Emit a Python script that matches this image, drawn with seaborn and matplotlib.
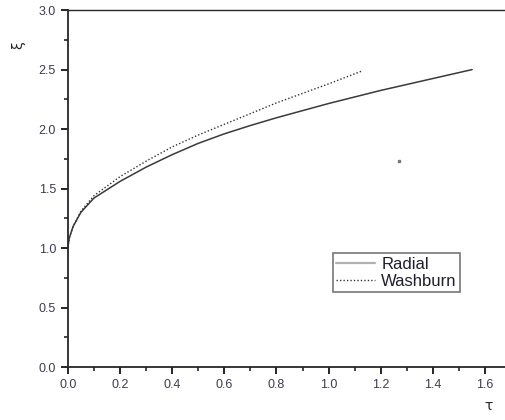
import matplotlib
matplotlib.use("Agg")
import matplotlib.pyplot as plt
import seaborn as sns
import pandas as pd
from matplotlib.ticker import MultipleLocator

# values
radial_tau = [0.0, 0.005, 0.02, 0.05, 0.1, 0.2, 0.3, 0.4, 0.5, 0.6, 0.7, 0.8, 0.9, 1.0, 1.1, 1.2, 1.3, 1.4, 1.55]
radial_xi = [1.0, 1.08, 1.18, 1.3, 1.42, 1.56, 1.68, 1.785, 1.88, 1.96, 2.03, 2.095, 2.155, 2.215, 2.27, 2.325, 2.375, 2.425, 2.5]
washburn_tau = [0.0, 0.005, 0.02, 0.05, 0.1, 0.2, 0.3, 0.4, 0.5, 0.6, 0.7, 0.8, 0.9, 1.0, 1.13]
washburn_xi = [1.0, 1.08, 1.18, 1.31, 1.44, 1.6, 1.73, 1.85, 1.95, 2.04, 2.13, 2.22, 2.3, 2.38, 2.49]
stray_tau = [1.27]
stray_xi = [1.73]

sns.set_style("ticks")
plt.rcParams['font.family'] = ['Liberation Sans', 'DejaVu Sans']

fig = plt.figure(figsize=(5.06, 4.2), dpi=100)
ax = fig.add_axes([0.134, 0.126, 0.866, 0.850])

radial = pd.DataFrame({"tau": radial_tau, "xi": radial_xi})
washburn = pd.DataFrame({"tau": washburn_tau, "xi": washburn_xi})

sns.lineplot(data=radial, x="tau", y="xi", ax=ax, color="#3a3a3a", lw=1.1, label="Radial")
sns.lineplot(data=washburn, x="tau", y="xi", ax=ax, color="#333333", lw=1.0, ls=(0, (1, 1.5)), label="Washburn")
ax.plot(stray_tau, stray_xi, ls="none", marker="s", ms=1.5, color="#777777")

ax.set_xlim(0, 1.68)
ax.set_ylim(0, 3.0)
ax.xaxis.set_major_locator(MultipleLocator(0.2))
ax.xaxis.set_minor_locator(MultipleLocator(0.1))
ax.yaxis.set_major_locator(MultipleLocator(0.5))
ax.yaxis.set_minor_locator(MultipleLocator(0.25))
ax.tick_params(which="major", length=5, width=1.2, labelsize=9, labelcolor="#3c3c50", color="black")
ax.tick_params(which="minor", length=3, width=1.2)

ax.spines["right"].set_visible(False)
for s in ["left", "bottom"]:
    ax.spines[s].set_linewidth(1.3)
ax.spines["top"].set_linewidth(1.0)

ax.set_xlabel("")
ax.set_ylabel("")
fig.text(18 / 506, 1 - 45 / 420, "ξ", rotation=90, fontsize=10, ha="center", va="center", family="DejaVu Sans")
fig.text(489 / 506, 1 - 406 / 420, "τ", fontsize=10, ha="center", va="center", family="DejaVu Sans")

leg = ax.legend(loc="upper left", bbox_to_anchor=(0.605, 0.319), fontsize=12, frameon=True,
                fancybox=False, shadow=False, handlelength=2.3, handletextpad=0.4,
                borderpad=0.2, labelspacing=0.15, borderaxespad=0)
leg.get_frame().set_edgecolor("#555555")
leg.get_frame().set_linewidth(1.2)
leg.get_lines()[0].set_color("#b0b0b0")
leg.get_lines()[0].set_linewidth(1.6)
for t in leg.get_texts():
    t.set_color("#1e1e2a")

fig.savefig("out.png", dpi=100)
